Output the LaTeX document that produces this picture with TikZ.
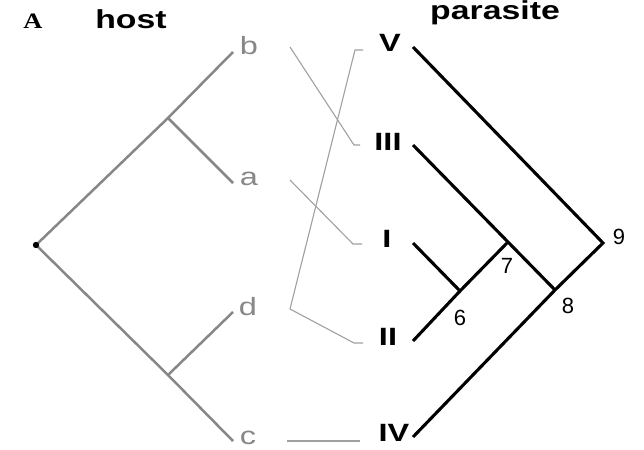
\documentclass[tikz,border=0pt]{standalone}
\usepackage{fontspec}
\setmainfont{Liberation Sans}
\newfontfamily\widesans[FakeStretch=1.3]{Liberation Sans}
\newfontfamily\wideserif[FakeStretch=1.2]{Liberation Serif}
\definecolor{hostgray}{RGB}{135,135,135}
\definecolor{linkgray}{RGB}{160,160,160}
\begin{document}
\begin{tikzpicture}[x=1pt,y=-1pt,
  hostline/.style={draw=hostgray,line width=2.5pt},
  paraline/.style={draw=black,line width=3.1pt},
  linkline/.style={draw=linkgray,line width=1.1pt},
  hostlab/.style={inner sep=0pt,text=hostgray,font=\widesans\fontsize{25}{25}\selectfont},
  paralab/.style={inner sep=0pt,font=\widesans\bfseries\fontsize{25}{25}\selectfont},
  numlab/.style={inner sep=0pt,font=\fontsize{22}{22}\selectfont},
  headlab/.style={inner sep=0pt,font=\widesans\bfseries\fontsize{26}{26}\selectfont}]
\useasboundingbox (0,0) rectangle (644,449);
% headers
\node[inner sep=0pt,font=\wideserif\bfseries\fontsize{22}{22}\selectfont] (hA) at (33,21) {A};
\node[headlab] (hhost) at (131,19) {host};
\node[headlab] (hpara) at (495,13) {parasite};
% host tree
\coordinate (hroot) at (36,245);
\coordinate (hab) at (168,118);
\coordinate (hdc) at (168,375);
\coordinate (tb) at (233,52);
\coordinate (ta) at (233,183);
\coordinate (td) at (233,312);
\coordinate (tc) at (233,441);
\draw[hostline] (tb) -- (hab) -- (hroot) -- (hdc) -- (tc);
\draw[hostline] (hab) -- (ta);
\draw[hostline] (hdc) -- (td);
\fill (hroot) circle (3.2pt);
\node[hostlab] (lb) at (249,46) {b};
\node[hostlab] (la) at (249,179) {a};
\node[hostlab] (ld) at (248,307) {d};
\node[hostlab] (lc) at (248,438) {c};
% parasite tree
\coordinate (pV) at (413,47);
\coordinate (pIII) at (413,145);
\coordinate (pI) at (413,243);
\coordinate (pII) at (413,341);
\coordinate (pIV) at (413,437);
\coordinate (n6) at (460,291);
\coordinate (n7) at (507,243);
\coordinate (n8) at (555,290);
\coordinate (n9) at (603,243);
\draw[paraline] (pV) -- (n9) -- (n8) -- (pIV);
\draw[paraline] (pIII) -- (n8);
\draw[paraline] (pI) -- (n6) -- (n7);
\draw[paraline] (pII) -- (n6);
\node[paralab] (lV) at (390,43) {V};
\node[paralab] (lIII) at (388,142) {III};
\node[paralab] (lI) at (387,239) {I};
\node[paralab] (lII) at (388,337) {II};
\node[paralab] (lIV) at (394,433) {IV};
\node[numlab] (l9) at (619,237) {9};
\node[numlab] (l7) at (507,266) {7};
\node[numlab] (l6) at (460,318) {6};
\node[numlab] (l8) at (568,306) {8};
% associations
\coordinate (sb) at (290,47);
\coordinate (sa) at (290,180);
\coordinate (sd) at (290,309);
\coordinate (sc) at (287,441);
\coordinate (eIII) at (354,145);
\coordinate (eI) at (353,244);
\coordinate (eV) at (355,50);
\coordinate (eII) at (354,343);
\draw[linkline] (sb) -- (eIII) -- ++(6,0);
\draw[linkline] (sa) -- (eI) -- ++(9,0);
\draw[linkline] (sd) -- (eV) -- ++(8,0);
\draw[linkline] (sd) -- (eII) -- ++(9,0);
\draw[linkline] (sc) -- (360,441);
\end{tikzpicture}
\end{document}
